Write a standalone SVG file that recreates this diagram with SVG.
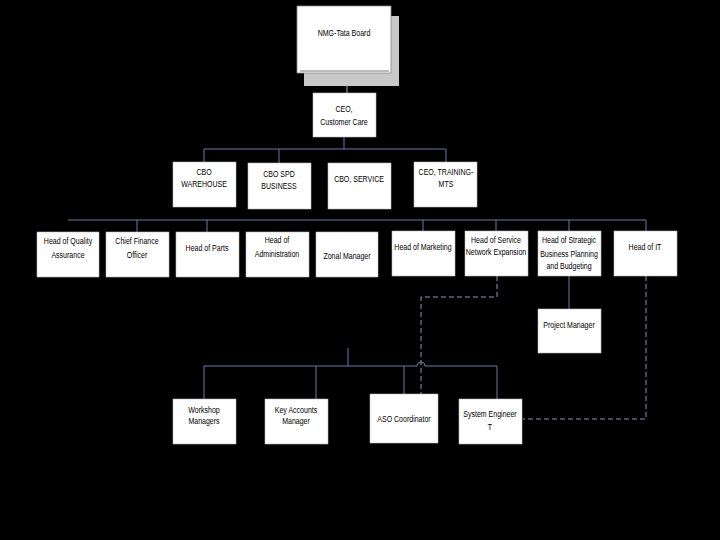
<svg xmlns="http://www.w3.org/2000/svg" width="720" height="540" viewBox="0 0 720 540">
<style>
.bx{fill:#fff;stroke:#bbb;stroke-width:0.6}
.t{font-family:"Liberation Sans",Arial,sans-serif;font-size:9px;fill:#000;text-anchor:middle}
.ln{fill:none;stroke:#6b7aa6;stroke-width:1}
.dl{fill:none;stroke:#8a96b4;stroke-width:1;stroke-dasharray:5,3}
</style>
<rect width="720" height="540" fill="#000"/>
<g id="connectors">
<line x1="347" y1="73" x2="347" y2="93" stroke="#aab" stroke-width="1"/>
<path class="ln" d="M344 137V149M204 162V149H446V162M279 149V163"/>
<path class="ln" d="M68 220H646M137 220V232M207 220V232M423 220V231M496 220V231M569 220V231M646 220V231"/>
<path class="ln" d="M569 276V309"/>
<path class="ln" d="M348 348V366M204 399V366H417A4 4 0 0 1 425 366H497V401M316 366V399M404 366V394"/>
<path class="dl" d="M497 276V297H421V394"/>
<path class="dl" d="M646 276V419H523"/>
</g>
<g id="board">
<rect x="304" y="16" width="95" height="70" fill="#c8c8c8"/>
<rect x="297" y="6" width="94" height="67" fill="#fff" stroke="#888" stroke-width="0.8"/>
<line x1="300" y1="71" x2="389" y2="71" stroke="#555" stroke-width="0.8"/>
<text class="t" transform="translate(344 36) scale(.78 1)">NMG-Tata Board</text>
</g>
<g id="ceo"><rect class="bx" x="313" y="93" width="63" height="44"/><text class="t" transform="translate(344 112) scale(.78 1)">CEO,</text><text class="t" transform="translate(344 125) scale(.78 1)">Customer Care</text></g>
<g id="cbo-warehouse"><rect class="bx" x="173" y="162" width="63" height="45"/><text class="t" transform="translate(204 175) scale(.78 1)">CBO</text><text class="t" transform="translate(204 187) scale(.78 1)">WAREHOUSE</text></g>
<g id="cbo-spd"><rect class="bx" x="248" y="163" width="63" height="46"/><text class="t" transform="translate(279 177) scale(.78 1)">CBO SPD</text><text class="t" transform="translate(279 189) scale(.78 1)">BUSINESS</text></g>
<g id="cbo-service"><rect class="bx" x="328" y="163" width="63" height="46"/><text class="t" transform="translate(359 182) scale(.78 1)">CBO, SERVICE</text></g>
<g id="ceo-training"><rect class="bx" x="414" y="162" width="63" height="45"/><text class="t" transform="translate(446 175) scale(.78 1)">CEO, TRAINING-</text><text class="t" transform="translate(446 187) scale(.78 1)">MTS</text></g>
<g id="quality"><rect class="bx" x="37" y="232" width="62" height="45"/><text class="t" transform="translate(68 244) scale(.78 1)">Head of Quality</text><text class="t" transform="translate(68 258) scale(.78 1)">Assurance</text></g>
<g id="cfo"><rect class="bx" x="106" y="232" width="63" height="45"/><text class="t" transform="translate(137 244) scale(.78 1)">Chief Finance</text><text class="t" transform="translate(137 258) scale(.78 1)">Officer</text></g>
<g id="parts"><rect class="bx" x="176" y="232" width="63" height="45"/><text class="t" transform="translate(207 251) scale(.78 1)">Head of Parts</text></g>
<g id="admin"><rect class="bx" x="246" y="232" width="63" height="45"/><text class="t" transform="translate(277 243) scale(.78 1)">Head of</text><text class="t" transform="translate(277 257) scale(.78 1)">Administration</text></g>
<g id="zonal"><rect class="bx" x="316" y="232" width="62" height="45"/><text class="t" transform="translate(347 259) scale(.78 1)">Zonal Manager</text></g>
<g id="marketing"><rect class="bx" x="392" y="231" width="63" height="45"/><text class="t" transform="translate(423 250) scale(.78 1)">Head of Marketing</text></g>
<g id="service-network"><rect class="bx" x="465" y="231" width="63" height="45"/><text class="t" transform="translate(496 243) scale(.78 1)">Head of Service</text><text class="t" transform="translate(496 255) scale(.78 1)">Network Expansion</text></g>
<g id="strategic"><rect class="bx" x="538" y="231" width="63" height="45"/><text class="t" transform="translate(569 243) scale(.78 1)">Head of Strategic</text><text class="t" transform="translate(569 257) scale(.78 1)">Business Planning</text><text class="t" transform="translate(569 269) scale(.78 1)">and Budgeting</text></g>
<g id="it"><rect class="bx" x="614" y="231" width="63" height="45"/><text class="t" transform="translate(645 250) scale(.78 1)">Head of IT</text></g>
<g id="project-manager"><rect class="bx" x="538" y="309" width="63" height="44"/><text class="t" transform="translate(569 328) scale(.78 1)">Project Manager</text></g>
<g id="workshop"><rect class="bx" x="173" y="399" width="63" height="45"/><text class="t" transform="translate(204 413) scale(.78 1)">Workshop</text><text class="t" transform="translate(204 424) scale(.78 1)">Managers</text></g>
<g id="key-accounts"><rect class="bx" x="265" y="399" width="63" height="45"/><text class="t" transform="translate(296 413) scale(.78 1)">Key Accounts</text><text class="t" transform="translate(296 424) scale(.78 1)">Manager</text></g>
<g id="aso"><rect class="bx" x="370" y="394" width="68" height="49"/><text class="t" transform="translate(404 422) scale(.78 1)">ASO Coordinator</text></g>
<g id="system-engineer"><rect class="bx" x="459" y="399" width="63" height="45"/><text class="t" transform="translate(490 417) scale(.78 1)">System Engineer</text><text class="t" transform="translate(490 430) scale(.78 1)">T</text></g>
</svg>
